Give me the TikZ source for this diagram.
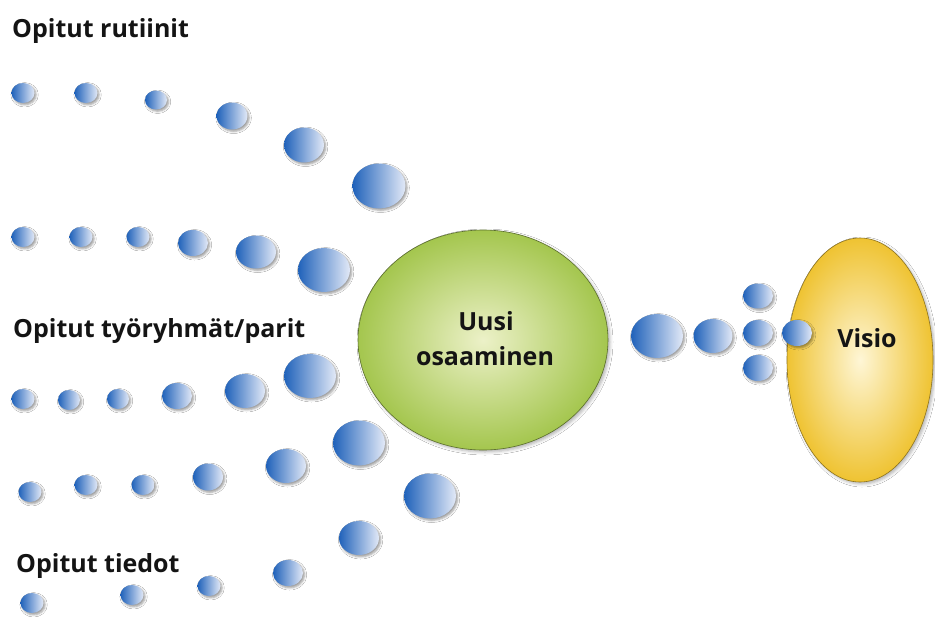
\documentclass[tikz,border=0pt]{standalone}
\usepackage{fontspec}
\setmainfont{Open Sans}
\usetikzlibrary{shapes.geometric,shadows.blur}

\definecolor{bubdark}{RGB}{32,98,186}
\definecolor{bubmid}{RGB}{96,142,206}
\definecolor{bublight}{RGB}{226,233,247}
\definecolor{grnedge}{RGB}{164,198,78}
\definecolor{grnmid}{RGB}{236,241,200}
\definecolor{ylwedge}{RGB}{239,195,50}
\definecolor{ylwmid}{RGB}{254,246,214}
\definecolor{inktext}{RGB}{20,20,20}

\tikzset{
  bubble/.style={ellipse, inner sep=0pt, outer sep=0pt,
    left color=bubdark, middle color=bubmid, right color=bublight,
    blur shadow={shadow xshift=1.6pt, shadow yshift=-1.8pt,
                 shadow blur radius=2.2pt, shadow opacity=40}},
  hub/.style={ellipse, inner sep=0pt, line width=0.6pt,
    blur shadow={shadow xshift=2pt, shadow yshift=-2pt,
                 shadow blur radius=3pt, shadow opacity=30}},
  caption/.style={inner sep=0pt, text=inktext, font=\bfseries\fontsize{25}{28}\selectfont},
}

\begin{document}
\begin{tikzpicture}[x=1pt, y=-1pt]
  \useasboundingbox (0,0) rectangle (935,619);
  \fill[white] (0,0) rectangle (935,619);

  % central hub and the vision
  \node[hub, draw=grnedge!55!black, inner color=grnmid, outer color=grnedge,
        minimum width=250pt, minimum height=220pt] (osaaminen) at (483,340) {};
  \node[hub, draw=ylwedge!60!black, inner color=ylwmid, outer color=ylwedge,
        minimum width=146pt, minimum height=244pt] (visio) at (860,360) {};

  \node[caption, anchor=base] (t1) at (486,330) {Uusi};
  \node[caption, anchor=base] (t2) at (485,365) {osaaminen};
  \node[caption, anchor=base] (t3) at (867,347) {Visio};

  % streams of learnt things
  \foreach \n/\x/\y/\w/\h in {
      a1/23/93/23/20, a2/86/93/23/20, a3/156/100/22/19, a4/232/116/31/27, a5/304/145/40/35, a6/379/186/53/45,
      b1/23/237/23/20, b2/81/237/23/20, b3/138/237/23/20, b4/193/243/30/26, b5/256/252/40/33, b6/324/270/52/44,
      c1/23/399/23/20, c2/69/400/22/20, c3/118/399/22/20, c4/177/396/30/26, c5/245/391/40/34, c6/310/376/52/44,
      d1/30/492/23/20, d2/86/485/23/20, d3/143/485/23/20, d4/208/477/30/27, d5/286/466/40/34, d6/359/443/52/45,
      e1/32/603/23/20, e2/132/595/23/20, e3/209/586/23/20, e4/288/573/30/26, e5/359/538/40/34, e6/430/496/52/45,
      r1/657/336/52/44, r2/713/336/39/34, r3/758/296/30/25, r4/758/333/30/26, r5/758/368/30/26, r6/797/333/30/26}
    \node[bubble, minimum width=\w pt, minimum height=\h pt] (\n) at (\x,\y) {};

  % stream labels
  \node[caption, anchor=base west] (l1) at (12,37) {Opitut rutiinit};
  \node[caption, anchor=base west] (l2) at (13,337) {Opitut työryhmät/parit};
  \node[caption, anchor=base west] (l3) at (16,572) {Opitut tiedot};
\end{tikzpicture}
\end{document}
